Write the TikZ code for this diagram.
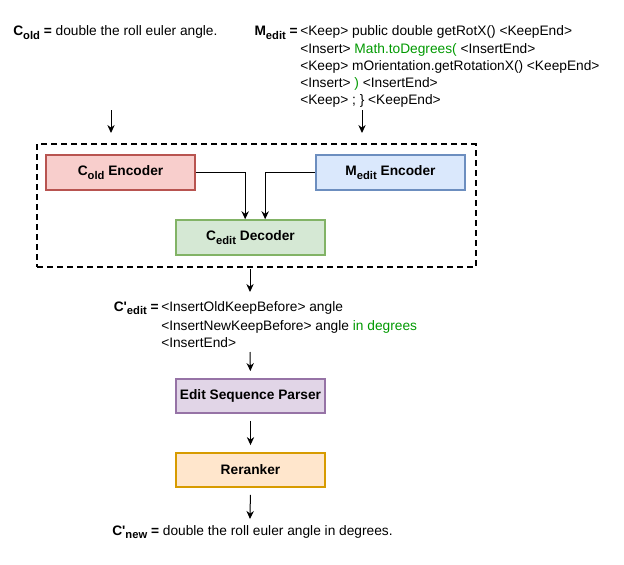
\documentclass[tikz,border=0pt]{standalone}
\usepackage{fontspec}
\setmainfont{Liberation Sans}
\usetikzlibrary{arrows.meta}
\usetikzlibrary{positioning}

\definecolor{redfill}{HTML}{F8CECC}
\definecolor{reddraw}{HTML}{B85450}
\definecolor{bluefill}{HTML}{DAE8FC}
\definecolor{bluedraw}{HTML}{6C8EBF}
\definecolor{greenfill}{HTML}{D5E8D4}
\definecolor{greendraw}{HTML}{82B366}
\definecolor{purplefill}{HTML}{E1D5E7}
\definecolor{purpledraw}{HTML}{9673A6}
\definecolor{orangefill}{HTML}{FFE6CC}
\definecolor{orangedraw}{HTML}{D79B00}
\definecolor{edittext}{HTML}{009900}

\newcommand{\lowsub}[1]{\raisebox{-2.4pt}{\fontsize{8.4}{9}\selectfont #1}}

\begin{document}
\begin{tikzpicture}[x=0.75pt, y=-0.75pt,
    every node/.style={font=\fontsize{10.3}{12}\selectfont, inner sep=0pt},
    line/.style={anchor=base west},
    lab/.style={anchor=base east, font=\fontsize{10.3}{12}\selectfont\bfseries},
    block/.style={draw, line width=1.4pt, minimum width=112pt, minimum height=26pt,
        font=\fontsize{10.3}{12}\selectfont\bfseries},
    arr/.style={line width=0.75pt, -{Stealth[length=6pt, width=5.5pt]}},
    gap/.style={shorten <=5pt, shorten >=5pt}]

\useasboundingbox (0,0) rectangle (624,564);

% inputs
\node[line] (cold) at (13,36) {\textbf{C\lowsub{old} =} double the roll euler angle.};

\node[lab] (medit) at (298,36) {M\lowsub{edit} =};
\node[line] (m1) at (300,36) {<Keep> public double getRotX() <KeepEnd>};
\node[line] (m2) at (300,53) {<Insert> \textcolor{edittext}{Math.toDegrees(} <InsertEnd>};
\node[line] (m3) at (300,70) {<Keep> mOrientation.getRotationX() <KeepEnd>};
\node[line] (m4) at (300,87) {<Insert> \textcolor{edittext}{)} <InsertEnd>};
\node[line] (m5) at (300,104) {<Keep> ; \} <KeepEnd>};

\coordinate (in-old) at (111,110);
\coordinate (in-old-end) at (111,133);
\coordinate (in-edit) at (362,110);
\coordinate (in-edit-end) at (362,133);
\draw[arr] (in-old) -- (in-old-end);
\draw[arr] (in-edit) -- (in-edit-end);

% model
\node[draw, line width=1.5pt, dash pattern=on 4.5pt off 3pt,
    minimum width=329pt, minimum height=92pt] (frame) at (256.5,205.5) {};

\node[block, fill=redfill, draw=reddraw] (oldenc) at (120.5,172.5) {C\lowsub{old} Encoder};
\node[block, fill=bluefill, draw=bluedraw] (editenc) at (390.5,172.5) {M\lowsub{edit} Encoder};
\node[block, fill=greenfill, draw=greendraw] (dec) at (250.5,237.5) {C\lowsub{edit} Decoder};

\draw[arr] (oldenc.east) -| ([xshift=-4pt]dec.north);
\draw[arr] (editenc.west) -| ([xshift=11pt]dec.north);

% output of decoder
\coordinate (out-dec) at (250,269);
\coordinate (out-dec-end) at (250,292);
\draw[arr] (out-dec) -- (out-dec-end);

\node[lab] (cedit) at (159,311) {C\textquotesingle\lowsub{edit} =};
\node[line] (e1) at (161,311) {<InsertOldKeepBefore> angle};
\node[line] (e2) at (161,330) {<InsertNewKeepBefore> angle \textcolor{edittext}{in degrees}};
\node[line] (e3) at (161,347) {<InsertEnd>};

\node[block, fill=purplefill, draw=purpledraw] (parser) at (250.5,396) {Edit Sequence Parser};
\node[block, fill=orangefill, draw=orangedraw] (reranker) at (250.5,470) {Reranker};

\coordinate (out-edit) at (250,352);
\draw[arr, shorten >=5pt] (out-edit) -- (parser.north);
\draw[arr, gap] (parser.south) -- (reranker.north);
\coordinate (out-new) at (250,519);
\draw[arr, shorten <=5pt] (reranker.south) -- (out-new);

\node[line] (cnew) at (112,535) {\textbf{C\textquotesingle\lowsub{new} =} double the roll euler angle in degrees.};

\end{tikzpicture}
\end{document}
